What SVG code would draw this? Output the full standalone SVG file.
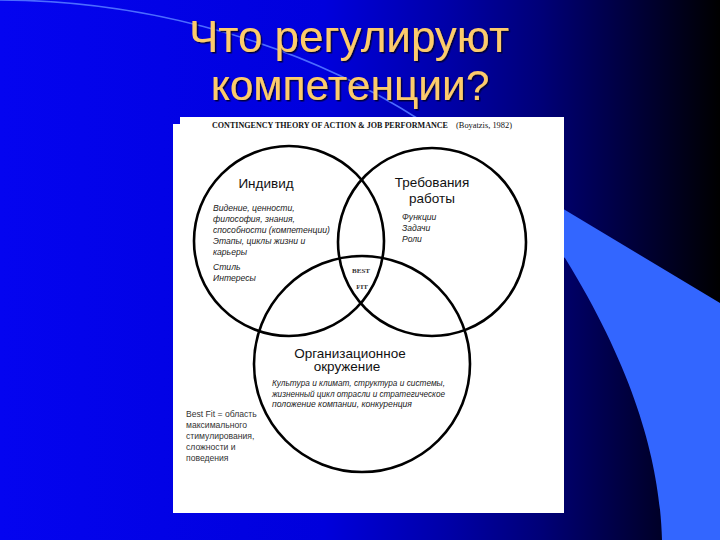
<svg xmlns="http://www.w3.org/2000/svg" width="720" height="540" viewBox="0 0 720 540">
<defs>
<linearGradient id="bg" x1="0" y1="0" x2="720" y2="0" gradientUnits="userSpaceOnUse">
<stop offset="0" stop-color="#0404F0"/>
<stop offset="0.45" stop-color="#0000DC"/>
<stop offset="0.62" stop-color="#0000A8"/>
<stop offset="0.75" stop-color="#000078"/>
<stop offset="0.88" stop-color="#00003A"/>
<stop offset="1" stop-color="#000000"/>
</linearGradient>
<filter id="sh" x="-10%" y="-10%" width="120%" height="130%">
<feDropShadow dx="1.5" dy="1.5" stdDeviation="0.6" flood-color="#000030" flood-opacity="0.9"/>
</filter>
<style>
.title{font-family:"Liberation Sans",Arial,sans-serif;fill:#FCCB6C;text-anchor:middle}
.ring{fill:none;stroke:#000;stroke-width:2.6}
.head{font-family:"Liberation Sans",Arial,sans-serif;font-size:13.5px;fill:#111;text-anchor:middle}
.it{font-family:"Liberation Sans",Arial,sans-serif;font-size:8.6px;font-style:italic;fill:#222}
.note{font-family:"Liberation Sans",Arial,sans-serif;font-size:8.6px;fill:#333}
.bf{font-family:"Liberation Serif","Times New Roman",serif;font-size:7px;font-weight:bold;fill:#333;text-anchor:middle}
.cap{font-family:"Liberation Serif","Times New Roman",serif;font-size:8.5px;fill:#111}
</style>
</defs>
<rect x="0" y="0" width="720" height="540" fill="url(#bg)"/>
<path d="M480,159 L720,303 L720,540 L662,540 C660,470 640,380 565,258 L480,200 Z" fill="#3366FF"/>
<path d="M0,0 C120,0 280,30 420,120" fill="none" stroke="#4C6CFF" stroke-width="1.5"/>
<g filter="url(#sh)">
<text class="title" x="349" y="52" font-size="44">Что регулируют</text>
<text class="title" x="350" y="100" font-size="42.5">компетенции?</text>
</g>
<path d="M180,117 L564,117 L564,513 L173,513 L173,124 L180,124 Z" fill="#FFFFFF"/>
<text class="cap" x="212" y="128" font-weight="bold" textLength="236" lengthAdjust="spacingAndGlyphs">CONTINGENCY THEORY OF ACTION &amp; JOB PERFORMANCE</text>
<text class="cap" x="456" y="128" textLength="56" lengthAdjust="spacingAndGlyphs">(Boyatzis, 1982)</text>
<g id="connectors"></g>
<g id="individual">
<circle class="ring" cx="289" cy="241" r="95"/>
<text class="head" x="266" y="188">Индивид</text>
<text class="it" x="213" y="211">Видение, ценности,</text>
<text class="it" x="213" y="222">философия, знания,</text>
<text class="it" x="213" y="233">способности (компетенции)</text>
<text class="it" x="213" y="244">Этапы, циклы жизни и</text>
<text class="it" x="213" y="255">карьеры</text>
<text class="it" x="213" y="270">Стиль</text>
<text class="it" x="213" y="281">Интересы</text>
</g>
<g id="job">
<circle class="ring" cx="432" cy="242" r="94"/>
<text class="head" x="432" y="187">Требования</text>
<text class="head" x="432" y="203">работы</text>
<text class="it" x="402" y="220">Функции</text>
<text class="it" x="402" y="231">Задачи</text>
<text class="it" x="402" y="242">Роли</text>
</g>
<g id="organization">
<circle class="ring" cx="362" cy="364" r="108"/>
<text class="head" x="350" y="357.5" font-size="13">Организационное</text>
<text class="head" x="347" y="371" font-size="13">окружение</text>
<text class="it" x="272" y="386" textLength="173" lengthAdjust="spacingAndGlyphs">Культура и климат, структура и системы,</text>
<text class="it" x="272" y="396.5" textLength="173" lengthAdjust="spacingAndGlyphs">жизненный цикл отрасли и стратегическое</text>
<text class="it" x="272" y="407">положение компании, конкуренция</text>
</g>
<g id="best-fit">
<text class="bf" x="361" y="272.5">BEST</text>
<text class="bf" x="362" y="289">FIT</text>
</g>
<g id="note">
<text class="note" x="186" y="416.5">Best Fit = область</text>
<text class="note" x="186" y="427.5">максимального</text>
<text class="note" x="186" y="438.5">стимулирования,</text>
<text class="note" x="186" y="449.5">сложности и</text>
<text class="note" x="186" y="460.5">поведения</text>
</g>
</svg>
